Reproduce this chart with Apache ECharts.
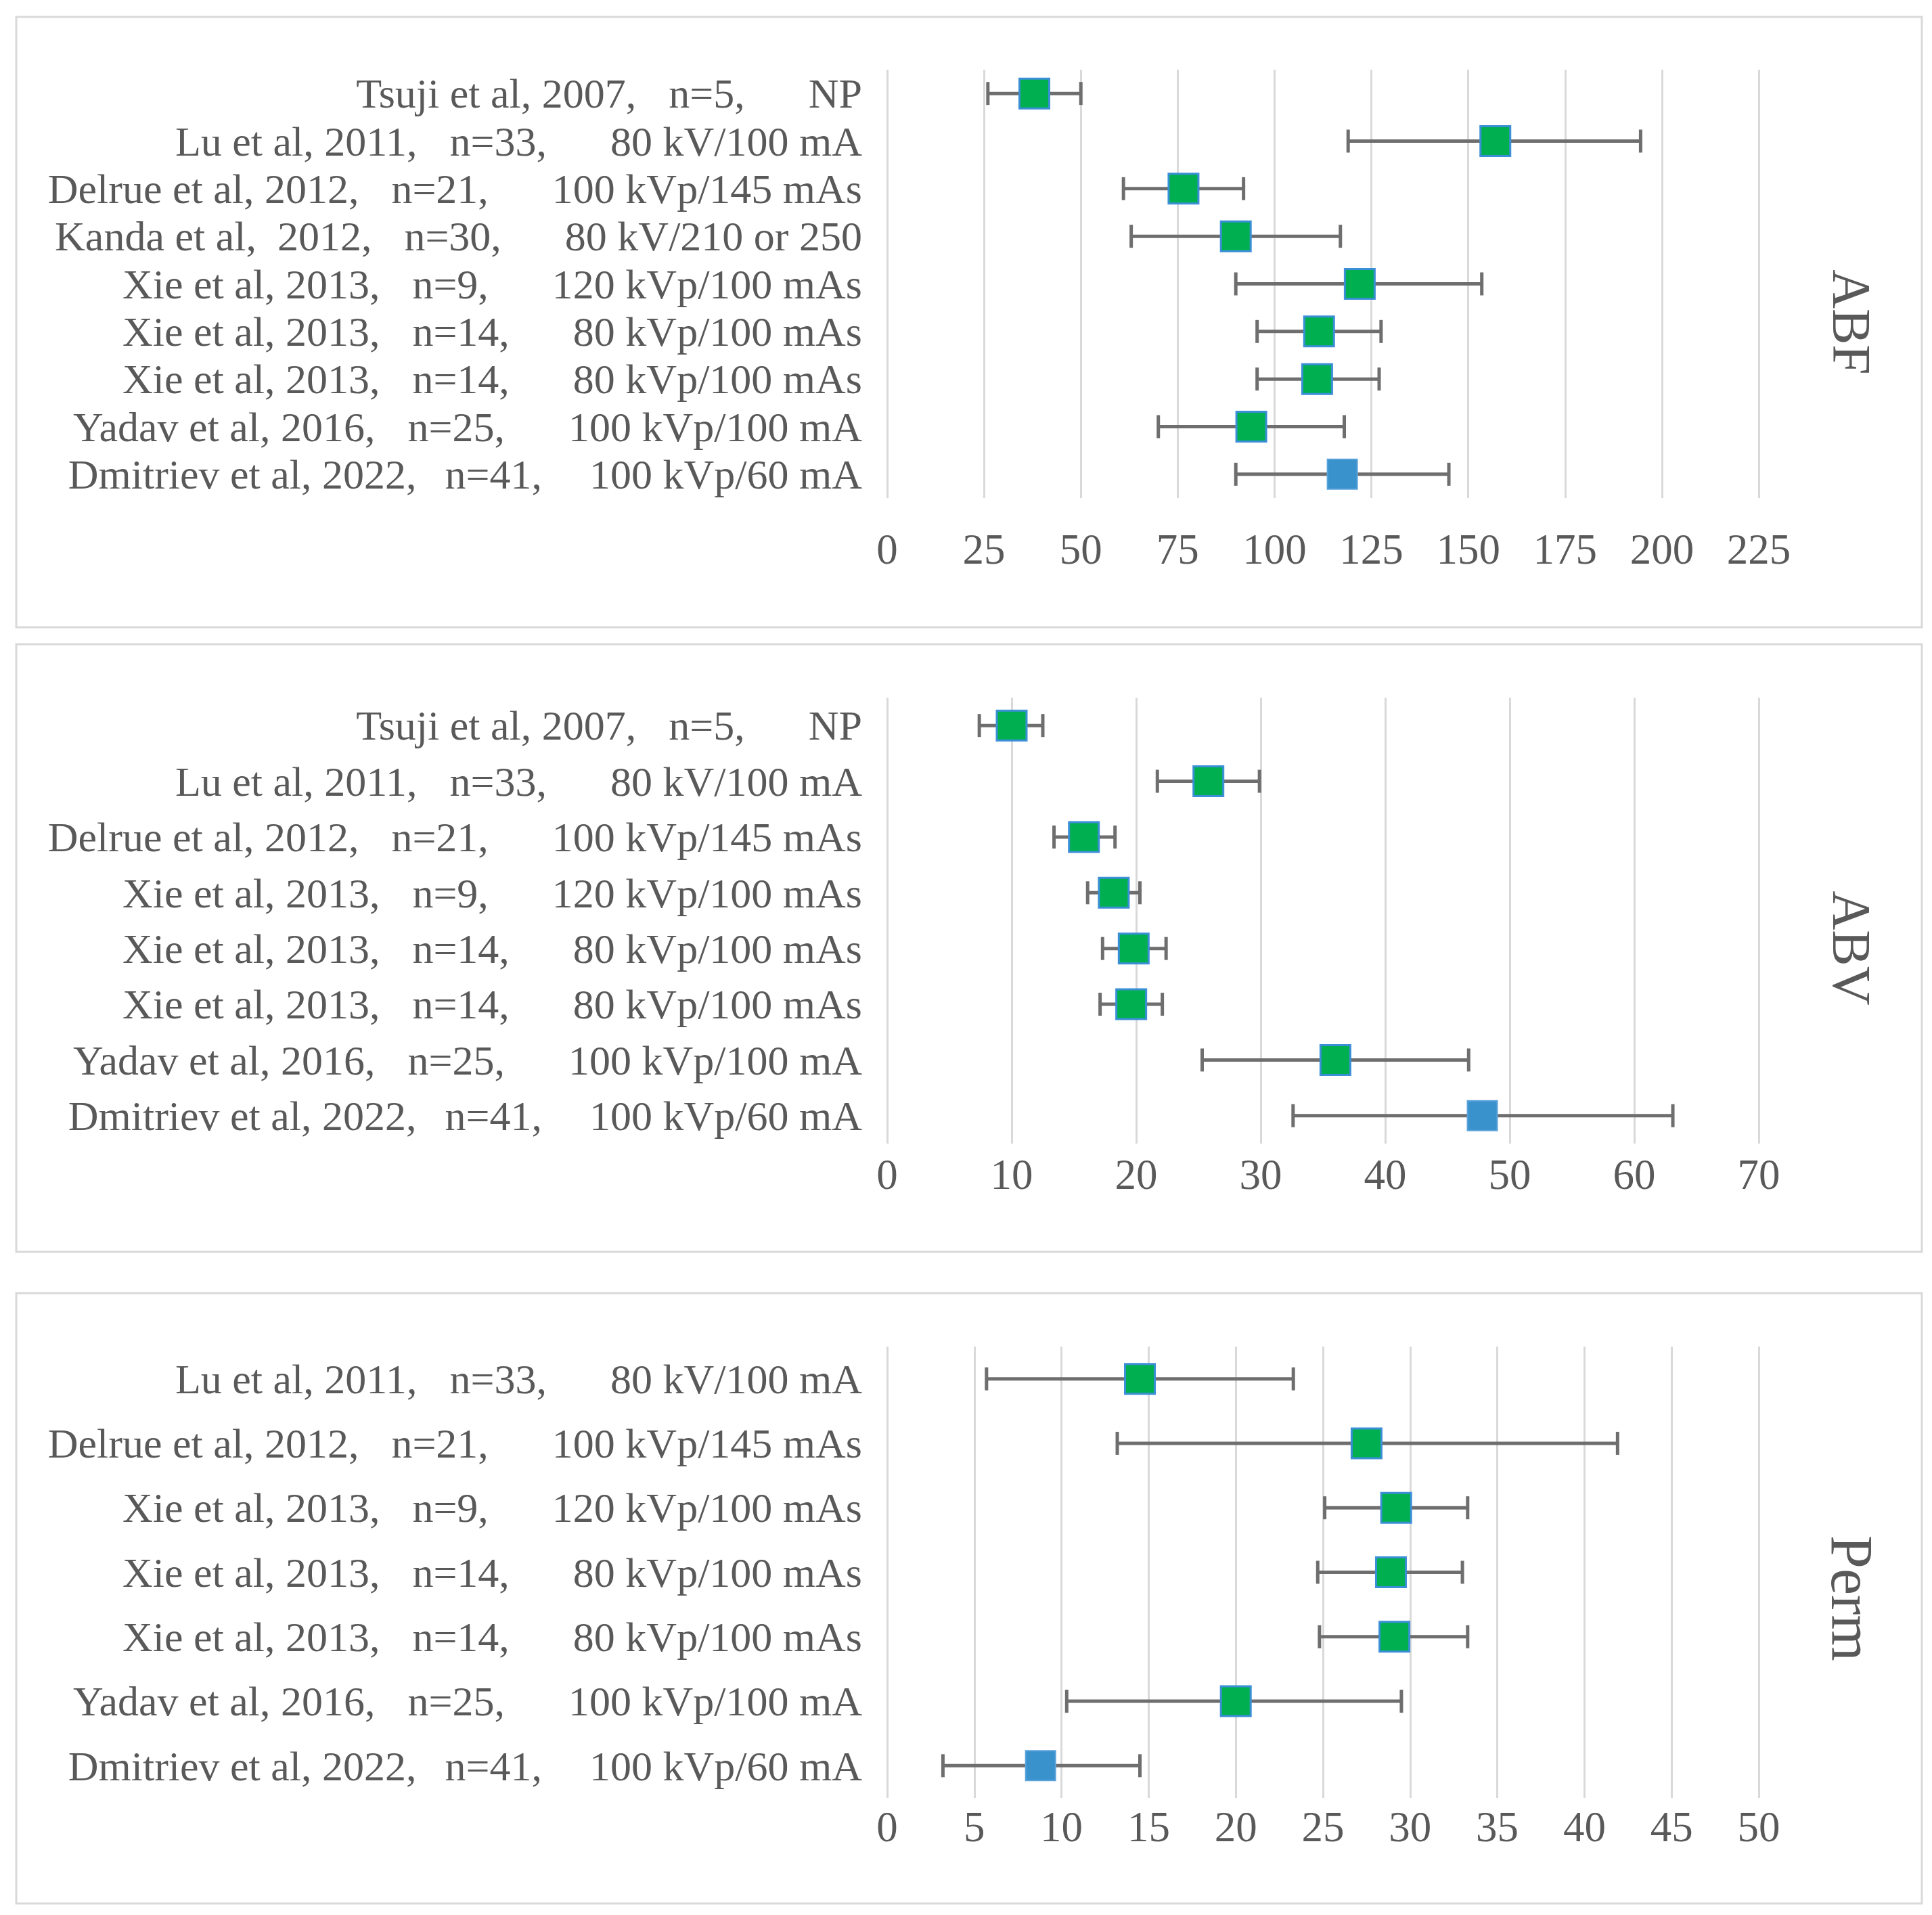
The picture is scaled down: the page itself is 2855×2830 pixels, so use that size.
<!DOCTYPE html>
<html>
<head>
<meta charset="utf-8">
<script src="https://cdn.jsdelivr.net/npm/echarts@6/dist/echarts.min.js"></script>
<style>
html,body{margin:0;padding:0;background:#fff;}
#chart{width:2855px;height:2830px;}
</style>
</head>
<body>
<div id="chart"></div>
<script>
// ---- data ----
const studyAuthors = ["Tsuji et al, 2007,", "Lu et al, 2011,", "Delrue et al, 2012,", "Kanda et al,  2012,", "Xie et al, 2013,", "Xie et al, 2013,", "Xie et al, 2013,", "Yadav et al, 2016,", "Dmitriev et al, 2022,"];
const studyN = ["n=5,", "n=33,", "n=21,", "n=30,", "n=9,", "n=14,", "n=14,", "n=25,", "n=41,"];
const studyProtocol = ["NP", "80 kV/100 mA", "100 kVp/145 mAs", "80 kV/210 or 250", "120 kVp/100 mAs", "80 kVp/100 mAs", "80 kVp/100 mAs", "100 kVp/100 mA", "100 kVp/60 mA"];
const ownStudy = [false, false, false, false, false, false, false, false, true];

const abfRows = [0, 1, 2, 3, 4, 5, 6, 7, 8];
const abfMean = [38, 157, 76.5, 90, 122, 111.5, 111, 94, 117.5];
const abfLow  = [26, 119, 61, 63, 90, 95.5, 95.5, 70, 90];
const abfHigh = [50, 194.5, 92, 117, 153.5, 127.5, 127, 118, 145];
const abfTicks = {min: 0, max: 225, interval: 25};

const abvRows = [0, 1, 2, 4, 5, 6, 7, 8];
const abvMean = [10, 25.8, 15.8, 18.2, 19.8, 19.6, 36, 47.8];
const abvLow  = [7.4, 21.7, 13.4, 16.1, 17.3, 17.1, 25.3, 32.6];
const abvHigh = [12.5, 29.9, 18.3, 20.3, 22.4, 22.1, 46.7, 63.1];
const abvTicks = {min: 0, max: 70, interval: 10};

const permRows = [1, 2, 4, 5, 6, 7, 8];
const permMean = [14.5, 27.5, 29.2, 28.9, 29.1, 20, 8.8];
const permLow  = [5.7, 13.2, 25.1, 24.7, 24.8, 10.3, 3.2];
const permHigh = [23.3, 41.9, 33.3, 33.0, 33.3, 29.5, 14.5];
const permTicks = {min: 0, max: 50, interval: 5};

const panelNames = ["ABF", "ABV", "Perm"];

// ---- styles ----
const FONT = "Liberation Serif";
const TXT = "#595959";
const GRID_COL = "#D9D9D9";
const GREEN = "#00B050", GREEN_BORDER = "#3A8FD6";
const BLUE = "#3A92CD", BLUE_BORDER = "#5BA3DB";
const LBL = 62;
const sideFont = [80, 80, 88];

const panels = [
  {rows: abfRows, mean: abfMean, low: abfLow, high: abfHigh, ticks: abfTicks,
   grid: {left: 1311, width: 1288, top: 103, height: 633}, labelMargin: 49, box: [24, 25, 2816, 902]},
  {rows: abvRows, mean: abvMean, low: abvLow, high: abvHigh, ticks: abvTicks,
   grid: {left: 1311, width: 1288, top: 1031, height: 659}, labelMargin: 19, box: [24, 952, 2816, 898]},
  {rows: permRows, mean: permMean, low: permLow, high: permHigh, ticks: permTicks,
   grid: {left: 1311, width: 1288, top: 1990, height: 667}, labelMargin: 16, box: [24, 1911, 2816, 902]}
];

const grids = [], xAxes = [], yAxes = [], series = [], graphics = [];

panels.forEach((p, gi) => {
  grids.push(Object.assign({containLabel: false}, p.grid));
  xAxes.push({
    type: 'value', gridIndex: gi, min: p.ticks.min, max: p.ticks.max, interval: p.ticks.interval,
    axisLine: {show: false}, axisTick: {show: false},
    splitLine: {show: true, lineStyle: {color: GRID_COL, width: 3}},
    axisLabel: {color: TXT, fontFamily: FONT, fontSize: 63, margin: p.labelMargin}
  });
  yAxes.push({
    type: 'category', gridIndex: gi, inverse: true,
    data: p.rows.map(r => studyAuthors[r]),
    axisLine: {show: false}, axisTick: {show: false}, splitLine: {show: false},
    axisLabel: {
      margin: 37, interval: 0, padding: [10, 0, 0, 0],
      formatter: (v, i) => {
        const r = p.rows[i];
        const last = ownStudy[r];
        return '{a|' + studyAuthors[r] + '}{' + (last ? 'b2' : 'b') + '|' + studyN[r] + '}{' + (last ? 'c2' : 'c') + '|' + studyProtocol[r] + '}';
      },
      rich: {
        a: {color: TXT, fontFamily: FONT, fontSize: LBL},
        b: {color: TXT, fontFamily: FONT, fontSize: LBL, padding: [0, 0, 0, 48]},
        c: {color: TXT, fontFamily: FONT, fontSize: LBL, padding: [0, 0, 0, 94]},
        b2: {color: TXT, fontFamily: FONT, fontSize: LBL, padding: [0, 0, 0, 42]},
        c2: {color: TXT, fontFamily: FONT, fontSize: LBL, padding: [0, 0, 0, 70]}
      }
    }
  });
  // error bars
  series.push({
    type: 'custom', xAxisIndex: gi, yAxisIndex: gi, z: 2,
    data: p.rows.map((r, i) => [i, p.low[i], p.high[i]]),
    encode: {x: [1, 2], y: 0},
    renderItem: (params, api) => {
      const idx = api.value(0);
      const a = api.coord([api.value(1), idx]);
      const b = api.coord([api.value(2), idx]);
      const cap = 17;
      const st = {stroke: '#6E6E6E', lineWidth: 5};
      return {type: 'group', children: [
        {type: 'line', shape: {x1: a[0], y1: a[1], x2: b[0], y2: b[1]}, style: st},
        {type: 'line', shape: {x1: a[0], y1: a[1] - cap, x2: a[0], y2: a[1] + cap}, style: st},
        {type: 'line', shape: {x1: b[0], y1: b[1] - cap, x2: b[0], y2: b[1] + cap}, style: st}
      ]};
    }
  });
  // means
  series.push({
    type: 'scatter', xAxisIndex: gi, yAxisIndex: gi, z: 3,
    symbol: 'rect', symbolSize: 44,
    data: p.rows.map((r, i) => ({
      value: [p.mean[i], i],
      itemStyle: ownStudy[r]
        ? {color: BLUE, borderColor: BLUE_BORDER, borderWidth: 2, opacity: 1}
        : {color: GREEN, borderColor: GREEN_BORDER, borderWidth: 3, opacity: 1}
    }))
  });
  // panel border
  graphics.push({
    type: 'rect', z: -1, silent: true,
    shape: {x: p.box[0], y: p.box[1], width: p.box[2], height: p.box[3]},
    style: {fill: 'none', stroke: GRID_COL, lineWidth: 3}
  });
  // side label
  graphics.push({
    type: 'text', silent: true,
    x: 2730, y: p.box[1] + p.box[3] / 2, rotation: -Math.PI / 2,
    style: {text: panelNames[gi], font: sideFont[gi] + 'px "' + FONT + '"', fill: TXT, align: 'center', verticalAlign: 'middle'}
  });
});

const chart = echarts.init(document.getElementById('chart'), null, {renderer: 'canvas'});
chart.setOption({
  backgroundColor: '#ffffff',
  animation: false,
  grid: grids, xAxis: xAxes, yAxis: yAxes, series: series, graphic: graphics
});
</script>
</body>
</html>
